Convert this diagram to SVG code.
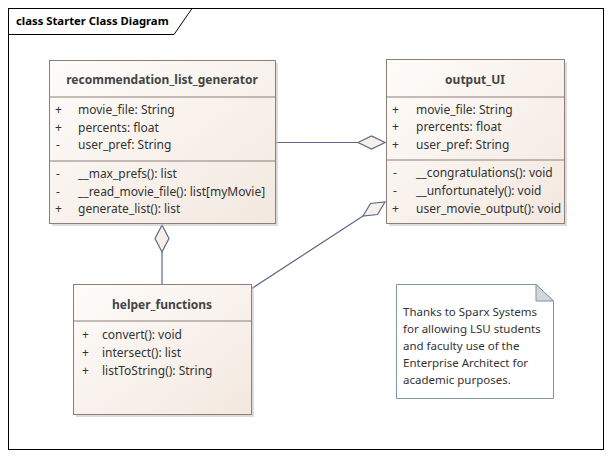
<svg xmlns="http://www.w3.org/2000/svg" width="614" height="459" viewBox="0 0 614 459">
<defs>
<linearGradient id="cls" x1="0" y1="0" x2="1" y2="1">
<stop offset="0" stop-color="#fefcfa"/>
<stop offset="1" stop-color="#f3e8df"/>
</linearGradient>
<style>
.box{fill:url(#cls);stroke:#8d7f78;stroke-width:1}
.shadow{fill:#c8c4c2;opacity:0.6}
.sep{stroke:#8d7f78;stroke-width:1}
.t{font-family:"Noto Sans","Open Sans",sans-serif;font-size:12px;fill:#333}
.nt{font-family:"Noto Sans","Open Sans",sans-serif;font-size:11.5px;fill:#333}
.n{font-family:"Noto Sans","Open Sans",sans-serif;font-size:12px;font-weight:bold;fill:#444;text-anchor:middle}
.conn{stroke:#5d6684;stroke-width:1.2;fill:none}
.dia{fill:#f7efe9;stroke:#5d6684;stroke-width:1.2}
.note{fill:#ffffff;stroke:#7e95a8;stroke-width:1}
</style>
</defs>
<rect width="614" height="459" fill="#ffffff"/>
<g id="frame">
<rect x="8.5" y="8.5" width="595" height="441" fill="none" stroke="#000" stroke-width="1"/>
<path d="M8.5 34.5 H174 L192 8.5" fill="none" stroke="#000" stroke-width="1"/>
<text x="16" y="25" font-family="Noto Sans,Open Sans,sans-serif" font-size="11.3" font-weight="bold" fill="#000">class Starter Class Diagram</text>
</g>
<g id="connectors">
<line class="conn" x1="275" y1="142.5" x2="358" y2="142.5"/>
<polygon class="dia" points="358,142.5 371.5,136 385,142.5 371.5,149"/>
<line class="conn" x1="162" y1="252" x2="162" y2="284"/>
<polygon class="dia" points="162,225 169,238.5 162,252 155,238.5"/>
<line class="conn" x1="251" y1="289" x2="363" y2="216"/>
<polygon class="dia" points="385,202 377.5,214.5 363,216 370.5,203.5"/>
</g>
<g id="recommendation_list_generator">
<rect class="shadow" x="52" y="63" width="226" height="163"/>
<rect class="box" x="49.5" y="60.5" width="226" height="163"/>
<line class="sep" x1="49.5" y1="97" x2="275.5" y2="97"/>
<line class="sep" x1="49.5" y1="161" x2="275.5" y2="161"/>
<text class="n" x="162" y="84">recommendation_list_generator</text>
<text class="t" x="55" y="114">+</text><text class="t" x="78" y="114">movie_file: String</text>
<text class="t" x="55" y="132">+</text><text class="t" x="78" y="132">percents: float</text>
<text class="t" x="56" y="149">-</text><text class="t" x="78" y="149">user_pref: String</text>
<text class="t" x="56" y="178">-</text><text class="t" x="78" y="178">__max_prefs(): list</text>
<text class="t" x="56" y="196">-</text><text class="t" x="78" y="196">__read_movie_file(): list[myMovie]</text>
<text class="t" x="55" y="213">+</text><text class="t" x="78" y="213">generate_list(): list</text>
</g>
<g id="output_UI">
<rect class="shadow" x="389" y="62" width="178" height="164"/>
<rect class="box" x="386.5" y="59.5" width="178" height="164"/>
<line class="sep" x1="386.5" y1="97" x2="564.5" y2="97"/>
<line class="sep" x1="386.5" y1="160" x2="564.5" y2="160"/>
<text class="n" x="475" y="84">output_UI</text>
<text class="t" x="392" y="114">+</text><text class="t" x="416" y="114">movie_file: String</text>
<text class="t" x="392" y="131">+</text><text class="t" x="416" y="131">prercents: float</text>
<text class="t" x="392" y="149">+</text><text class="t" x="416" y="149">user_pref: String</text>
<text class="t" x="393" y="177">-</text><text class="t" x="416" y="177">__congratulations(): void</text>
<text class="t" x="393" y="195">-</text><text class="t" x="416" y="195">__unfortunately(): void</text>
<text class="t" x="392" y="213">+</text><text class="t" x="416" y="213">user_movie_output(): void</text>
</g>
<g id="helper_functions">
<rect class="shadow" x="76" y="287" width="178" height="130"/>
<rect class="box" x="73.5" y="284.5" width="178" height="130"/>
<line class="sep" x1="73.5" y1="321" x2="251.5" y2="321"/>
<text class="n" x="162" y="309">helper_functions</text>
<text class="t" x="82" y="339">+</text><text class="t" x="102" y="339">convert(): void</text>
<text class="t" x="82" y="357">+</text><text class="t" x="102" y="357">intersect(): list</text>
<text class="t" x="82" y="375">+</text><text class="t" x="102" y="375">listToString(): String</text>
</g>
<g id="note">
<path class="note" d="M396.5 284.5 H536 L553.5 301 V398.5 H396.5 Z"/>
<path d="M536 284.5 V301 H553.5 Z" fill="#d3d7db" stroke="#7e95a8" stroke-width="1"/>
<text class="nt" x="403" y="316">Thanks to Sparx Systems</text>
<text class="nt" x="403" y="333">for allowing LSU students</text>
<text class="nt" x="403" y="350">and faculty use of the</text>
<text class="nt" x="403" y="367">Enterprise Architect for</text>
<text class="nt" x="403" y="384">academic purposes.</text>
</g>
</svg>
